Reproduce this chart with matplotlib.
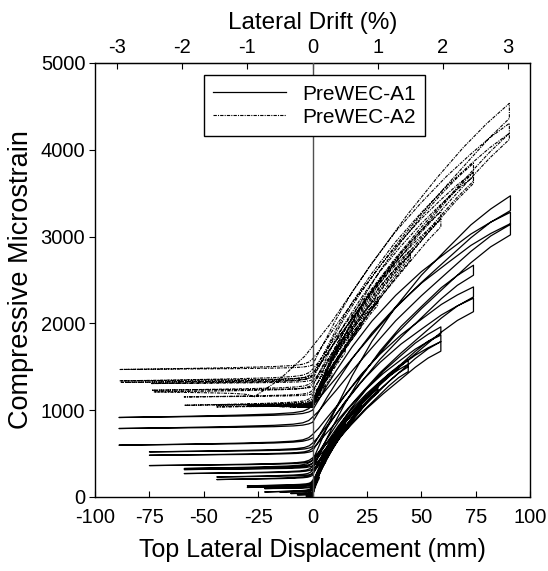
import numpy as np
import matplotlib
matplotlib.use("Agg")
import matplotlib.pyplot as plt
from matplotlib.lines import Line2D

plt.rcParams['font.family'] = ['Liberation Sans', 'DejaVu Sans']
plt.rcParams['axes.unicode_minus'] = False

# ---------------- data ----------------
# PreWEC-A1 (solid): one entry per cycle
a1_pos_x = [3, 6, 9, 15, 22.5, 22.5, 30, 30, 44, 44, 59, 59, 59, 74, 74, 74, 91, 91, 91]
a1_top = [230, 420, 590, 860, 1080, 1050, 1270, 1240, 1580, 1530, 1960, 1865, 1790,
          2670, 2420, 2290, 3470, 3280, 3150]
a1_bottom = [210, 400, 560, 830, 1040, 1010, 1220, 1200, 1500, 1445, 1880, 1790, 1680,
             2555, 2305, 2135, 3300, 3140, 3020]
a1_zero_unload = [20, 40, 60, 90, 140, 120, 190, 170, 310, 280, 430, 390, 350,
                  620, 560, 450, 1060, 920, 720]
a1_neg_x = [-3, -7, -10, -15, -22, -22, -30, -30, -44, -44, -59, -59, -59,
            -75, -75, -75, -89, -89, -89]
a1_neg_end = [10, 25, 40, 58, 97, 58, 128, 110, 231, 201, 328, 316, 270,
              520, 481, 362, 916, 789, 597]
a1_zero_return = [15, 30, 50, 75, 115, 100, 160, 150, 270, 250, 390, 360, 320,
                  580, 530, 420, 1000, 860, 680]
a1_load_x0 = [0] * 19
a1_start = 0

# PreWEC-A2 (dash-dot)
a2_pos_x = [3, 6, 9, 15, 22.5, 30, 30, 45, 45, 59, 59, 74, 74, 74, 90.5, 90.5, 90.5]
a2_top = [1150, 1290, 1420, 1700, 2010, 2300, 2260, 2843, 2790, 3286, 3200,
          3845, 3740, 3690, 4535, 4305, 4190]
a2_bottom = [1130, 1260, 1390, 1660, 1960, 2240, 2210, 2760, 2728, 3200, 3113,
             3740, 3640, 3613, 4362, 4190, 4120]
a2_zero_unload = [1040, 1045, 1050, 1060, 1075, 1095, 1085, 1140, 1120, 1230, 1170,
                  1400, 1330, 1300, 1590, 1470, 1430]
a2_neg_x = [-3, -7, -10, -15, -22, -30, -30, -44, -44, -59, -59, -74, -74, -73,
            -88.5, -88.5, -88]
a2_neg_end = [1030, 1032, 1035, 1040, 1045, 1050, 1045, 1060, 1038, 1153, 1057,
              1307, 1230, 1211, 1469, 1338, 1320]
a2_zero_return = [1035, 1038, 1040, 1045, 1055, 1065, 1060, 1090, 1070, 1190, 1100,
                  1350, 1270, 1150, 1520, 1400, 1380]
a2_load_x0 = [0, 0, 0, 0, 0, 0, 0, 0, 0, 0, 0, 0, 0, 0, -27, 0, 0]
a2_start = 1030

# branch shape profiles (fraction of span)
load_u = [0, 0.03, 0.07, 0.12, 0.2, 0.3, 0.42, 0.55, 0.68, 0.8, 0.9, 1.0]
a1_load_v = [0, 0.05, 0.12, 0.2, 0.32, 0.45, 0.58, 0.7, 0.8, 0.89, 0.95, 1.0]
a1_unload_v = [0, 0.03, 0.08, 0.14, 0.24, 0.36, 0.5, 0.63, 0.75, 0.86, 0.94, 1.0]
a2_load_v = [0, 0.05, 0.11, 0.19, 0.3, 0.42, 0.55, 0.67, 0.78, 0.87, 0.94, 1.0]
a2_unload_v = [0, 0.03, 0.08, 0.14, 0.23, 0.34, 0.47, 0.6, 0.72, 0.83, 0.92, 1.0]
# first 3% loading of A2 starts before zero displacement (diagonal branch)
a2_first3_u = [0, 0.1, 0.2, 0.3, 0.45, 0.6, 0.72, 0.82, 0.91, 1.0]
a2_first3_v = [0, 0.06, 0.14, 0.25, 0.44, 0.62, 0.75, 0.85, 0.93, 1.0]
a2_first3_index = 14
neg_w = [0, 0.02, 0.05, 0.1, 0.2, 0.4, 0.7, 1.0]
neg_f = [0, 0.3, 0.5, 0.62, 0.72, 0.82, 0.92, 1.0]
ret_f = [0, 0.25, 0.45, 0.58, 0.7, 0.81, 0.91, 1.0]

drift_ticks = [-3, -2, -1, 0, 1, 2, 3]
mm_per_pct = 30.0


def build(pos_x, top, bottom, z_unload, neg_x, neg_end, z_return, load_x0, start,
          lv, uv, special=None):
    xs, ys = [0.0], [float(start)]
    y0 = start
    n = len(pos_x)
    for i in range(n):
        dp = pos_x[i]
        x0 = load_x0[i]
        if special is not None and i == special[0]:
            uu, vv = special[1], special[2]
        else:
            uu, vv = load_u, lv
        for u, v in zip(uu[1:], vv[1:]):
            xs.append(x0 + u * (dp - x0))
            ys.append(y0 + v * (top[i] - y0))
        xs.append(dp)
        ys.append(bottom[i])
        for u, v in reversed(list(zip(load_u[:-1], uv[:-1]))):
            xs.append(u * dp)
            ys.append(z_unload[i] + v * (bottom[i] - z_unload[i]))
        for w, f in zip(neg_w[1:], neg_f[1:]):
            xs.append(w * neg_x[i])
            ys.append(z_unload[i] + f * (neg_end[i] - z_unload[i]))
        xe = load_x0[i + 1] if i + 1 < n else 0.0
        for w, f in reversed(list(zip(neg_w[:-1], ret_f[:-1]))):
            xs.append(xe + w * (neg_x[i] - xe))
            ys.append(z_return[i] + f * (neg_end[i] - z_return[i]))
        y0 = z_return[i]
    return xs, ys


fig = plt.figure(figsize=(5.48, 5.71), dpi=100)
ax = fig.add_axes([0.1734, 0.1296, 0.7938, 0.7601])

x1, y1 = build(a1_pos_x, a1_top, a1_bottom, a1_zero_unload, a1_neg_x, a1_neg_end,
               a1_zero_return, a1_load_x0, a1_start, a1_load_v, a1_unload_v)
x2, y2 = build(a2_pos_x, a2_top, a2_bottom, a2_zero_unload, a2_neg_x, a2_neg_end,
               a2_zero_return, a2_load_x0, a2_start, a2_load_v, a2_unload_v,
               special=(a2_first3_index, a2_first3_u, a2_first3_v))

ax.plot(x1, y1, color='black', lw=0.9, solid_joinstyle='round', zorder=2)
ax.plot(x2, y2, color='black', lw=0.8, dashes=(3, 1, 1, 1), zorder=2)
ax.axvline(0, color='#505050', lw=1.0, zorder=3)

ax.set_xlim(-100, 100)
ax.set_ylim(0, 5000)
ax.set_xticks(np.arange(-100, 101, 25))
ax.set_yticks(np.arange(0, 5001, 1000))
ax.tick_params(axis='x', direction='in', length=4, labelsize=14.5, pad=8)
ax.tick_params(axis='y', direction='out', length=4, labelsize=14.5, pad=3)
for s in ax.spines.values():
    s.set_linewidth(1.0)

ax.set_xlabel('Top Lateral Displacement (mm)', fontsize=18, labelpad=8)
ax.set_ylabel('Compressive Microstrain', fontsize=19.5, labelpad=5)

sec = ax.secondary_xaxis('top', functions=(lambda x: x / mm_per_pct, lambda p: p * mm_per_pct))
sec.set_xticks(drift_ticks)
sec.tick_params(direction='in', length=4, labelsize=14.5, pad=4)
sec.set_xlabel('Lateral Drift (%)', fontsize=17.5, labelpad=7)

handles = [Line2D([], [], color='black', lw=0.9),
           Line2D([], [], color='black', lw=0.8, dashes=(3, 1, 1, 1))]
leg = ax.legend(handles, ['PreWEC-A1', 'PreWEC-A2'], loc='upper left',
                bbox_to_anchor=(0.2506, 0.972), borderaxespad=0, fontsize=15,
                handlelength=3.5, handletextpad=0.75, borderpad=0.45, labelspacing=0.2,
                fancybox=False, framealpha=1, edgecolor='black')
leg.get_frame().set_linewidth(1.0)

fig.savefig('out.png', dpi=100)
